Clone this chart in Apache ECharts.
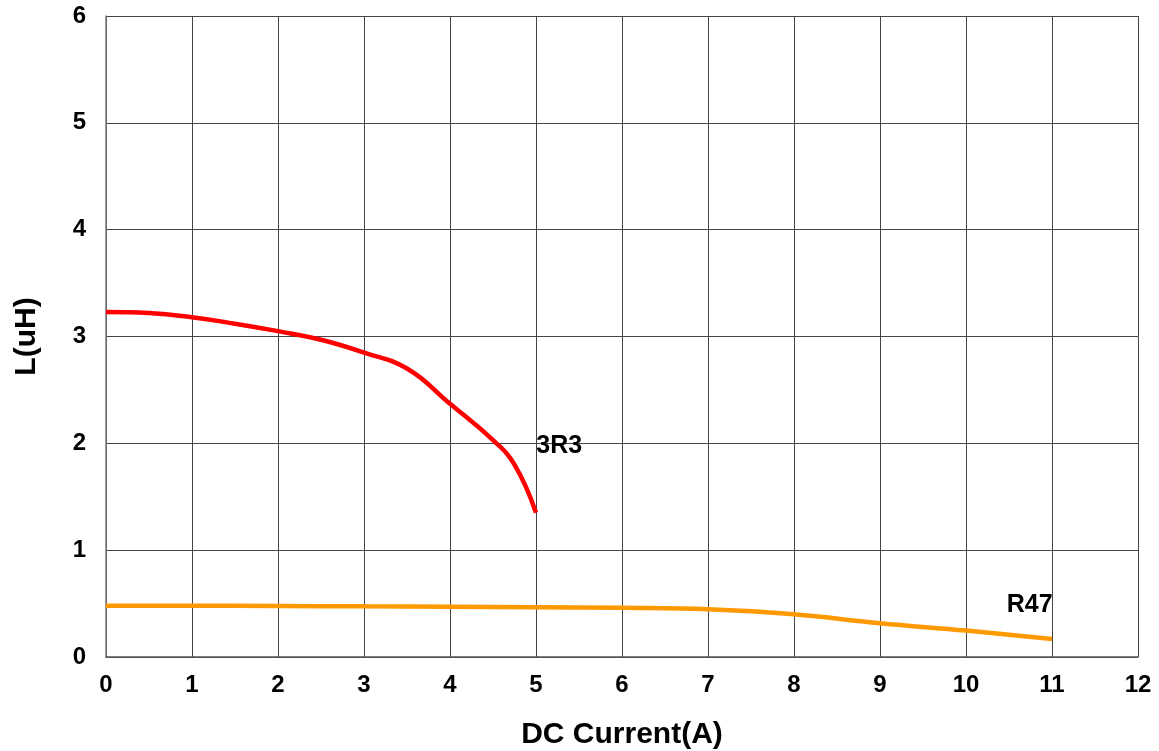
<!DOCTYPE html>
<html>
<head>
<meta charset="utf-8">
<script src="https://cdn.jsdelivr.net/npm/echarts@6/dist/echarts.min.js"></script>
<style>html,body{margin:0;padding:0;background:#fff}#c{width:1159px;height:751px}</style>
</head>
<body>
<div id="c"></div>
<script>
const xTicks = [0,1,2,3,4,5,6,7,8,9,10,11,12];
const yTicks = [0,1,2,3,4,5,6];
const s3r3X = [0, 0.5, 1, 1.5, 2, 2.5, 3, 3.5, 4, 4.5, 4.75, 5];
const s3r3Y = [3.23, 3.22, 3.18, 3.12, 3.05, 2.97, 2.85, 2.70, 2.37, 2.03, 1.80, 1.35];
const r47X = [0, 1, 2, 3, 4, 5, 6, 7, 8, 9, 10, 11];
const r47Y = [0.48, 0.48, 0.478, 0.474, 0.47, 0.466, 0.46, 0.447, 0.40, 0.316, 0.247, 0.169];
const labelNames = ['3R3', 'R47'];
const labelPos = [[5.27, 1.97], [10.74, 0.49]];

const chart = echarts.init(document.getElementById('c'), null, {renderer: 'canvas'});
const font = 'Liberation Sans';
function pts(xs, ys){ return xs.map((x,i)=>[x, ys[i]]); }
function mk(i){
  return {
    symbol: 'circle', symbolSize: 1, silent: true, animation: false,
    itemStyle: {color: 'rgba(255,255,255,0)'},
    label: {show: true, position: 'inside', formatter: labelNames[i], color: '#000',
      fontFamily: font, fontWeight: 'bold', fontSize: 25},
    data: [{coord: labelPos[i], name: labelNames[i]}]
  };
}
chart.setOption({
  animation: false,
  grid: {left: 106, right: 21, top: 16, bottom: 94, containLabel: false, outerBoundsMode: 'none'},
  xAxis: {
    type: 'value', min: 0, max: 12, interval: 1,
    name: 'DC Current(A)', nameLocation: 'middle', nameGap: 63,
    nameTextStyle: {fontFamily: font, fontWeight: 'bold', fontSize: 30, color: '#000'},
    axisLine: {show: true, lineStyle: {color: '#555', width: 1.5}},
    axisTick: {show: false},
    axisLabel: {fontFamily: font, fontWeight: 'bold', fontSize: 24, color: '#000', margin: 16,
      formatter: v => xTicks.includes(v) ? String(v) : ''},
    splitLine: {show: true, lineStyle: {color: '#444', width: 1}}
  },
  yAxis: {
    type: 'value', min: 0, max: 6, interval: 1,
    name: 'L(uH)', nameLocation: 'middle', nameGap: 64, nameRotate: 90,
    nameTextStyle: {fontFamily: font, fontWeight: 'bold', fontSize: 30, color: '#000'},
    axisLine: {show: true, lineStyle: {color: '#777', width: 1.5}},
    axisTick: {show: false},
    axisLabel: {fontFamily: font, fontWeight: 'bold', fontSize: 24, color: '#000', margin: 20,
      formatter: v => yTicks.includes(v) ? String(v) : ''},
    splitLine: {show: true, lineStyle: {color: '#444', width: 1}}
  },
  series: [
    {type: 'line', name: '3R3', data: pts(s3r3X, s3r3Y), smooth: 0.45, symbol: 'none',
      lineStyle: {color: '#ff0000', width: 4.5}, markPoint: mk(0)},
    {type: 'line', name: 'R47', data: pts(r47X, r47Y), smooth: 0.4, symbol: 'none',
      lineStyle: {color: '#ff9900', width: 4.5}, markPoint: mk(1)}
  ]
});
</script>
</body>
</html>
